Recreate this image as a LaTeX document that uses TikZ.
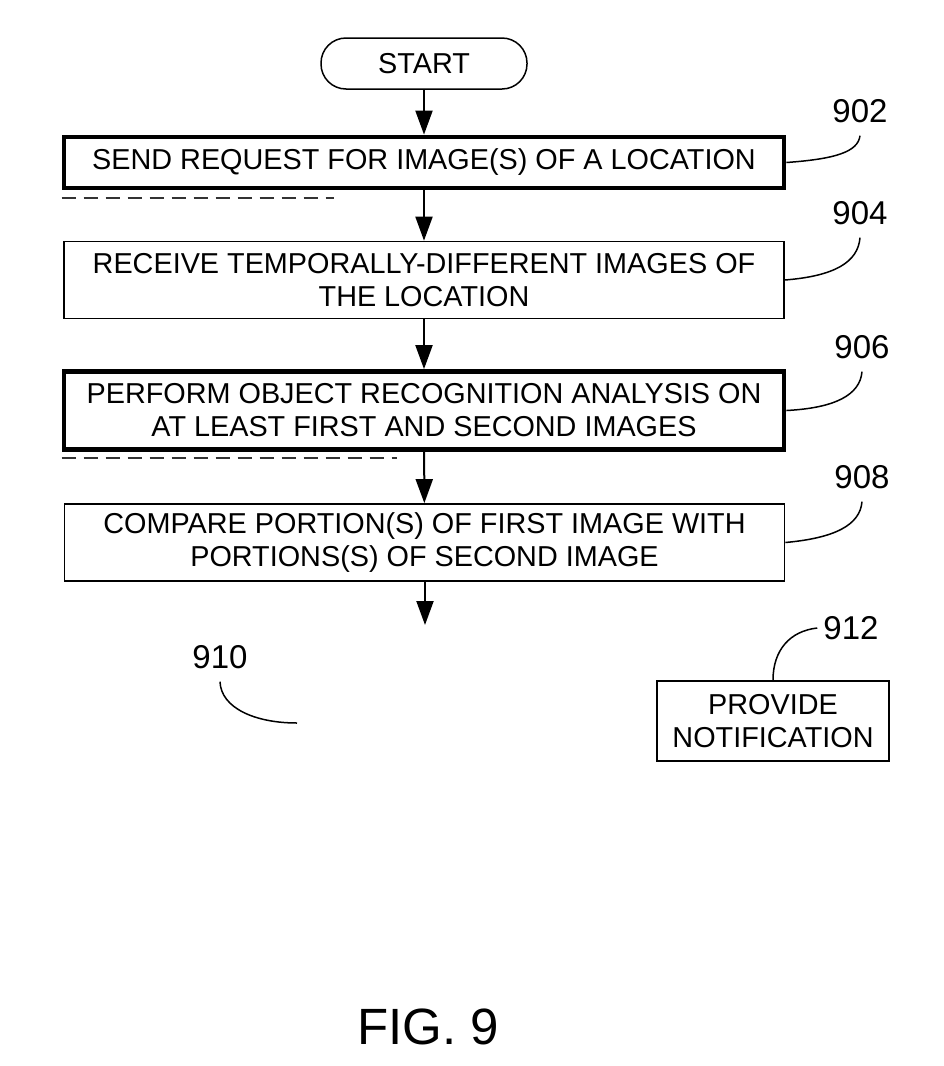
\documentclass[tikz,border=0pt]{standalone}
\usepackage{fontspec}
\setmainfont{Liberation Sans}
\usetikzlibrary{arrows.meta}
\begin{document}
\begin{tikzpicture}[x=1pt,y=-1pt,
  boxtext/.style={font=\fontsize{28.8}{33}\selectfont},
  thinbox/.style={draw,line width=1.7pt,rectangle,inner sep=0pt,align=center,boxtext},
  thickbox/.style={draw,line width=4.8pt,rectangle,inner sep=0pt,align=center,boxtext},
  startbox/.style={draw,line width=1.5pt,rectangle,rounded corners=25pt,inner sep=0pt,boxtext,minimum width=206pt,minimum height=51pt},
  lbl/.style={inner sep=0pt,outer ysep=13pt,font=\fontsize{33}{36}\selectfont},
  flow/.style={line width=2pt,-{Triangle[width=17pt,length=24pt]}},
  leader/.style={line width=1.5pt},
  scanline/.style={line width=2pt,dash pattern=on 14pt off 8pt,black!80}]
\useasboundingbox[fill=white] (0,0) rectangle (944,1066);

\node[startbox] (start) at (424,63.5) {START};
\node[thickbox,minimum width=720pt,minimum height=51pt] (b902) at (424,162.5) {SEND REQUEST FOR IMAGE(S) OF A LOCATION};
\node[thinbox,minimum width=720pt,minimum height=77pt] (b904) at (424,280) {RECEIVE TEMPORALLY-DIFFERENT IMAGES OF\\THE LOCATION};
\node[thickbox,minimum width=720pt,minimum height=78pt] (b906) at (424,410.5) {PERFORM OBJECT RECOGNITION ANALYSIS ON\\AT LEAST FIRST AND SECOND IMAGES};
\node[thinbox,minimum width=720pt,minimum height=77pt] (b908) at (424.5,542.5) {COMPARE PORTION(S) OF FIRST IMAGE WITH\\PORTIONS(S) OF SECOND IMAGE};
\node[thinbox,minimum width=232pt,minimum height=80pt] (b912) at (773,721) {PROVIDE\\NOTIFICATION};
\coordinate (c910top) at (425,625);
\coordinate (c910) at (297,723);

\node[lbl] (l902) at (860,111) {902};
\node[lbl] (l904) at (860,213) {904};
\node[lbl] (l906) at (862,347) {906};
\node[lbl] (l908) at (862,477) {908};
\node[lbl] (l912) at (851,628) {912};
\node[lbl] (l910) at (220,657) {910};
\node[font=\fontsize{51}{54}\selectfont,inner sep=0pt] (fig) at (428,1027) {FIG. 9};

\draw[flow] (start) -- (b902);
\draw[flow] (b902) -- (b904);
\draw[flow] (b904) -- (b906);
\draw[flow] (b906) -- (b908);
\draw[flow] (b908.south -| c910top) -- (c910top);

\draw[leader] (b902.east) .. controls (835,159) and (858,152) .. (l902.south);
\draw[leader] (b904.east) .. controls (835,276) and (858,262) .. (l904.south);
\draw[leader] (b906.east) .. controls (835,408) and (860,395) .. (l906.south);
\draw[leader] (b908.east) .. controls (835,538) and (860,525) .. (l908.south);
\draw[leader] (b912.north) .. controls (773,650) and (790,631) .. ([xshift=-6pt]l912.west);
\draw[leader] (l910.south) .. controls (221,708) and (255,723) .. (c910);

\draw[scanline] ([yshift=-8pt]b902.south west) -- ++(272,0);
\draw[scanline] ([yshift=-6pt]b906.south west) -- ++(335,0);
\end{tikzpicture}
\end{document}
